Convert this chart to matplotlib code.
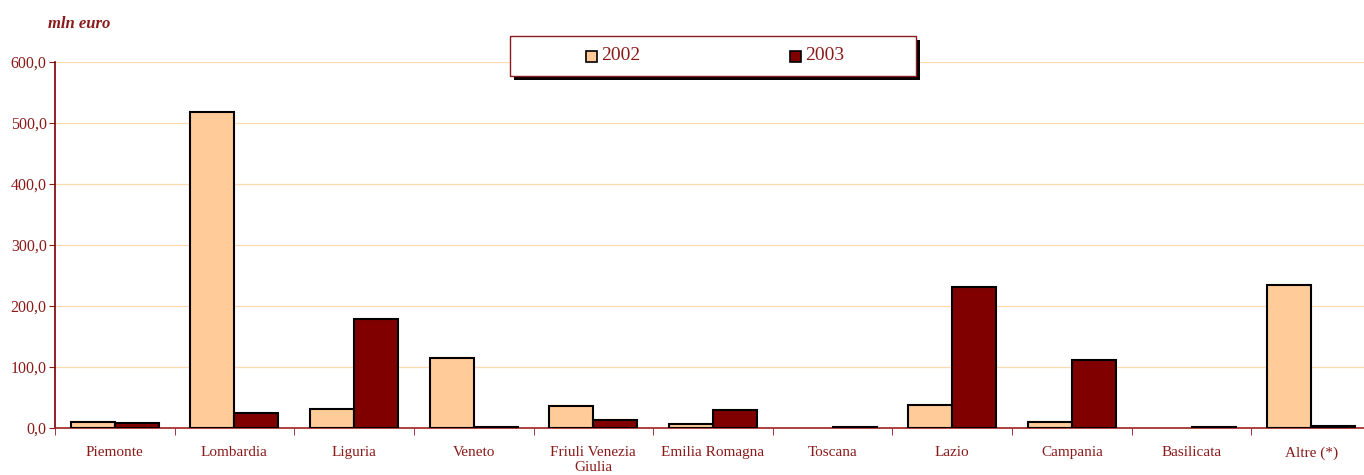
import numpy as np
import matplotlib
matplotlib.use("Agg")
import matplotlib.pyplot as plt
from matplotlib.patches import Rectangle

# -----------------------------
# Data
# -----------------------------
regions = ["Piemonte", "Lombardia", "Liguria", "Veneto", "Friuli Venezia\nGiulia",
           "Emilia Romagna", "Toscana", "Lazio", "Campania", "Basilicata", "Altre (*)"]
values_2002 = [10, 518, 31, 115, 36, 7, 0, 37, 9, 0, 234]
values_2003 = [8, 24, 179, 2, 13, 29, 1, 231, 111, 1, 3]
years = ["2002", "2003"]
yticks = [0, 100, 200, 300, 400, 500, 600]

text_color = "#8B1A1A"
c2002 = "#FFCC99"
c2003 = "#800000"

plt.rcParams["font.family"] = ["Liberation Serif", "DejaVu Serif"]

fig = plt.figure(figsize=(13.64, 4.75), dpi=100)
# axes runs a bit past the right edge, like the original
ax = fig.add_axes([0.0403, 0.099, 0.9648, 0.771])

x = np.arange(len(regions))
w = 0.368
# no outline on empty bars
lw02 = [1.5 if v > 0 else 0 for v in values_2002]
lw03 = [1.5 if v > 0 else 0 for v in values_2003]
ax.bar(x - w / 2, values_2002, w, color=c2002, edgecolor="black", linewidth=lw02, label=years[0], zorder=3)
ax.bar(x + w / 2, values_2003, w, color=c2003, edgecolor="black", linewidth=lw03, label=years[1], zorder=3)

ax.set_xlim(-0.5, len(regions) - 0.5)
ax.set_ylim(0, 600)
ax.set_yticks(yticks)
ax.set_yticklabels([f"{v:.1f}".replace(".", ",") for v in yticks], color=text_color, fontsize=11.5)
ax.yaxis.grid(True, color="#FFD9B0", linewidth=0.9, zorder=0)

ax.set_xticks(x)
ax.set_xticklabels(regions, color=text_color, fontsize=11)
ax.tick_params(axis="x", length=0, pad=13)
ax.set_xticks(np.arange(len(regions) + 1) - 0.5, minor=True)
ax.tick_params(axis="x", which="minor", length=5, color=text_color, direction="out")
ax.tick_params(axis="y", length=4, color=text_color, direction="out", pad=2)

for s in ["top", "right"]:
    ax.spines[s].set_visible(False)
ax.spines["left"].set_color("#7A0000")
ax.spines["bottom"].set_color("#A02020")
ax.spines["left"].set_linewidth(1.2)
ax.spines["bottom"].set_linewidth(1.2)

fig.text(0.035, 0.94, "mln euro", color=text_color, fontsize=12, fontweight="bold", style="italic")

# legend box with shadow
lx0, ly0, lw, lh = 510 / 1364, 1 - 76 / 475, 406 / 1364, 40 / 475
fig.patches.append(Rectangle((lx0 + 4 / 1364, ly0 - 4 / 475), lw, lh, transform=fig.transFigure,
                             facecolor="black", edgecolor="none", zorder=5))
fig.patches.append(Rectangle((lx0, ly0), lw, lh, transform=fig.transFigure,
                             facecolor="white", edgecolor="#8B1A1A", linewidth=1, zorder=6))
for i, (yr, col) in enumerate(zip(years, [c2002, c2003])):
    px = (586 + i * 204) / 1364
    fig.patches.append(Rectangle((px, 1 - 62 / 475), 11 / 1364, 11 / 475, transform=fig.transFigure,
                                 facecolor=col, edgecolor="black", linewidth=1.2, zorder=7))
    fig.text(px + 15 / 1364, 1 - 56 / 475, yr, color=text_color, fontsize=14, va="center", zorder=8)

fig.savefig("out.png", dpi=100)
plt.close()
